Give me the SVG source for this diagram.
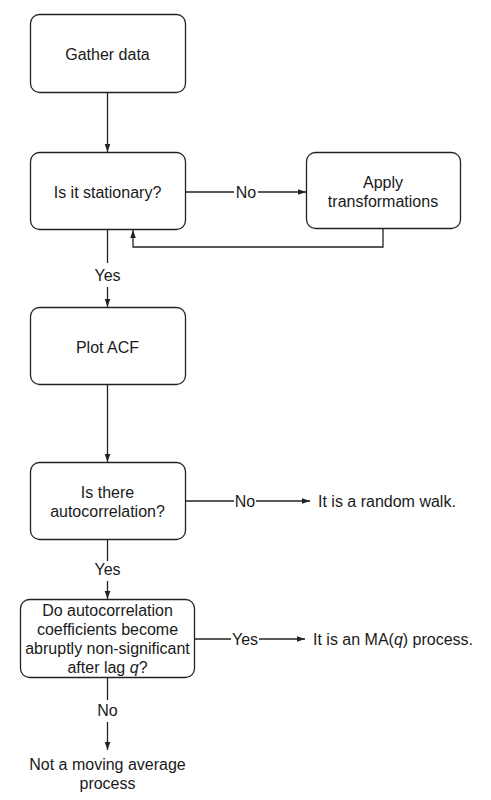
<svg xmlns="http://www.w3.org/2000/svg" width="491" height="800" viewBox="0 0 491 800">
<style>
.box{fill:#fff;stroke:#222;stroke-width:1.3}
.t{font-family:"Liberation Sans",Arial,sans-serif;font-size:16px;fill:#1a1a1a;text-anchor:middle}
.ts{font-family:"Liberation Sans",Arial,sans-serif;font-size:16px;fill:#1a1a1a}
.c{fill:none;stroke:#222;stroke-width:1.3}
</style>
<defs>
<marker id="ah" viewBox="0 0 10 10" refX="10" refY="5" markerWidth="8" markerHeight="8" markerUnits="userSpaceOnUse" orient="auto">
<path d="M0,1.5 L10,5 L0,8.5 Z" fill="#222"/>
</marker>
</defs>
<rect width="491" height="800" fill="#fff"/>
<g id="connectors">
<line class="c" x1="107.5" y1="92" x2="107.5" y2="152" marker-end="url(#ah)"/>
<line class="c" x1="185" y1="192" x2="234" y2="192"/>
<text class="t" x="246" y="198">No</text>
<line class="c" x1="258" y1="192" x2="306" y2="192" marker-end="url(#ah)"/>
<polyline class="c" points="383,229 383,247 133,247 133,230" marker-end="url(#ah)"/>
<line class="c" x1="107.5" y1="230" x2="107.5" y2="263"/>
<text class="t" x="107.5" y="281">Yes</text>
<line class="c" x1="107.5" y1="287" x2="107.5" y2="307" marker-end="url(#ah)"/>
<line class="c" x1="107.5" y1="384" x2="107.5" y2="462" marker-end="url(#ah)"/>
<line class="c" x1="185" y1="501" x2="234" y2="501"/>
<text class="t" x="245" y="507">No</text>
<line class="c" x1="256" y1="501" x2="310" y2="501" marker-end="url(#ah)"/>
<text class="ts" x="318" y="507">It is a random walk.</text>
<line class="c" x1="107.5" y1="539" x2="107.5" y2="561"/>
<text class="t" x="107.5" y="575">Yes</text>
<line class="c" x1="107.5" y1="581" x2="107.5" y2="599" marker-end="url(#ah)"/>
<line class="c" x1="194" y1="639" x2="231" y2="639"/>
<text class="t" x="245" y="645">Yes</text>
<line class="c" x1="259" y1="639" x2="305" y2="639" marker-end="url(#ah)"/>
<text class="ts" x="313" y="645" font-size="15.5">It is an MA(<tspan font-style="italic">q</tspan>) process.</text>
<line class="c" x1="107.5" y1="677" x2="107.5" y2="700"/>
<text class="t" x="107.5" y="716">No</text>
<line class="c" x1="107.5" y1="722" x2="107.5" y2="750" marker-end="url(#ah)"/>
<text class="t" x="107.5" y="770">Not a moving average</text>
<text class="t" x="107.5" y="789">process</text>
</g>
<g id="gather">
<rect class="box" x="30.5" y="14.5" width="155" height="78" rx="9"/>
<text class="t" x="107.5" y="60">Gather data</text>
</g>
<g id="stationary">
<rect class="box" x="30.5" y="152.5" width="155" height="77" rx="9"/>
<text class="t" x="107.5" y="198">Is it stationary?</text>
</g>
<g id="transform">
<rect class="box" x="306.5" y="152.5" width="154" height="76" rx="9"/>
<text class="t" x="383" y="188">Apply</text>
<text class="t" x="383" y="207">transformations</text>
</g>
<g id="acf">
<rect class="box" x="30.5" y="307.5" width="155" height="77" rx="9"/>
<text class="t" x="107.5" y="353">Plot ACF</text>
</g>
<g id="autocorr">
<rect class="box" x="30.5" y="462.5" width="155" height="77" rx="9"/>
<text class="t" x="107.5" y="498">Is there</text>
<text class="t" x="107.5" y="517">autocorrelation?</text>
</g>
<g id="coeff">
<rect class="box" x="20.5" y="599.5" width="174" height="78" rx="9"/>
<text class="t" x="107.5" y="616">Do autocorrelation</text>
<text class="t" x="107.5" y="635">coefficients become</text>
<text class="t" x="107.5" y="654">abruptly non-significant</text>
<text class="t" x="107.5" y="673">after lag <tspan font-style="italic">q</tspan>?</text>
</g>
</svg>
